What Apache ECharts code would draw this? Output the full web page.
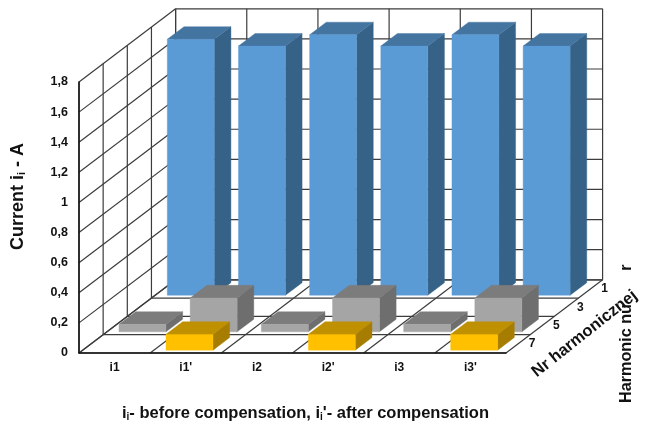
<!DOCTYPE html>
<html>
<head>
<meta charset="utf-8">
<style>html,body{margin:0;padding:0;background:#fff}#chart{width:648px;height:422px}</style>
<script src="https://cdn.jsdelivr.net/npm/echarts@6/dist/echarts.min.js"></script>
</head>
<body>
<div id="chart"></div>
<script>
// Harmonic currents before and after compensation, drawn as an oblique 3D column chart.
const categories = ["i1", "i1'", "i2", "i2'", "i3", "i3'"];
const harmonicOrders = ["7", "5", "3", "1"]; // front row to back row
const harmonic1 = [1.70, 1.655, 1.73, 1.655, 1.73, 1.655];
const harmonic3 = [0, 0, 0, 0, 0, 0];
const harmonic5 = [0.05, 0.225, 0.05, 0.225, 0.05, 0.225];
const harmonic7 = [0, 0.105, 0, 0.105, 0, 0.105];

// Oblique projection: screen offset of one harmonic row into the chart.
const ROW_DX = 24.15, ROW_DY = -18.3;
const BAR_WIDTH = 0.66, BAR_DEPTH = 0.69;
const GRID_COLOR = '#3c3c3c';
const TEXT_COLOR = '#111';
const FONT = '"Liberation Sans", Arial, sans-serif';

const chart = echarts.init(document.getElementById('chart'), null, {renderer: 'canvas'});

function line(a, b, width, color) {
  return {type: 'line', silent: true,
    shape: {x1: a[0], y1: a[1], x2: b[0], y2: b[1]},
    style: {stroke: color || GRID_COLOR, lineWidth: width || 1.2}};
}
function shift(p, rows) { return [p[0] + rows * ROW_DX, p[1] + rows * ROW_DY]; }

// Walls, floor and depth scale of the 3D box.
function renderBox(params, api) {
  const halfBand = api.size([1, 0])[0] / 2;
  const rows = harmonicOrders.length;
  const left = i => api.coord([i, 0])[0] - halfBand;
  const yAt = v => api.coord([0, v])[1];
  const kids = [];
  const n = categories.length;
  for (let k = 0; k <= 9; k++) {
    const v = k * 0.2;
    const a = [left(0), yAt(v)];
    const b = shift(a, rows);
    kids.push(line(a, b));
    kids.push(line(b, [left(n) + rows * ROW_DX, b[1]]));
  }
  for (let i = 0; i <= n; i++) {
    const base = shift([left(i), yAt(0)], rows);
    kids.push(line(base, [base[0], yAt(1.8) + rows * ROW_DY]));
    kids.push(line([left(i), yAt(0)], base));
  }
  for (let r = 0; r <= rows; r++) {
    const a = shift([left(0), yAt(0)], r);
    kids.push(line(a, [left(n) + r * ROW_DX, a[1]]));
    const top = shift([left(0), yAt(1.8)], r);
    kids.push(line(a, top));
  }
  harmonicOrders.forEach((order, r) => {
    const p = shift([left(n), yAt(0)], r + 0.5);
    kids.push({type: 'text', silent: true, style: {
      text: order, x: p[0] + 14, y: p[1], align: 'center', verticalAlign: 'middle',
      font: 'bold 12px ' + FONT, fill: TEXT_COLOR}});
  });
  return {type: 'group', children: kids};
}

function face(points, color) {
  return {type: 'polygon', silent: true, shape: {points},
    style: {fill: color, stroke: color, lineWidth: 0.4}};
}

// One row of prisms; rowIndex 0 is the front row.
function columnRenderer(rowIndex, colors) {
  return function (params, api) {
    const value = api.value(1);
    if (!(value > 0)) return null;
    const band = api.size([1, 0])[0];
    const base = api.coord([api.value(0), 0]);
    const top = api.coord([api.value(0), value]);
    const start = rowIndex + (1 - BAR_DEPTH) / 2;
    const x0 = base[0] - band * BAR_WIDTH / 2;
    const x1 = base[0] + band * BAR_WIDTH / 2;
    const fbl = shift([x0, base[1]], start), fbr = shift([x1, base[1]], start);
    const ftl = shift([x0, top[1]], start), ftr = shift([x1, top[1]], start);
    const bbr = shift(fbr, BAR_DEPTH), btr = shift(ftr, BAR_DEPTH), btl = shift(ftl, BAR_DEPTH);
    return {type: 'group', children: [
      face([fbr, bbr, btr, ftr], colors[2]),
      face([ftl, ftr, btr, btl], colors[1]),
      face([fbl, fbr, ftr, ftl], colors[0])
    ]};
  };
}

function columnSeries(name, values, rowIndex, colors, z) {
  return {
    type: 'custom', name, coordinateSystem: 'cartesian2d', z,
    clip: false, silent: true,
    encode: {x: 0, y: 1},
    data: values.map((v, i) => [i, v]),
    renderItem: columnRenderer(rowIndex, colors)
  };
}

const subRich = {
  t: {fontFamily: FONT, fontWeight: 'bold', fontSize: 16.5, color: TEXT_COLOR},
  s: {fontFamily: FONT, fontWeight: 'bold', fontSize: 10, color: TEXT_COLOR, verticalAlign: 'bottom', padding: [6, 0, 0, 0]}
};
const subRichLarge = {
  t: {fontFamily: FONT, fontWeight: 'bold', fontSize: 18, color: TEXT_COLOR},
  s: {fontFamily: FONT, fontWeight: 'bold', fontSize: 11, color: TEXT_COLOR, verticalAlign: 'bottom', padding: [6, 0, 0, 0]}
};

chart.setOption({
  animation: false,
  backgroundColor: '#fff',
  grid: {left: 79, top: 82, width: 427, height: 271, containLabel: false, outerBoundsMode: 'none'},
  xAxis: {
    type: 'category', data: categories, z: 20,
    axisLine: {show: true, lineStyle: {color: '#111', width: 1.5}},
    axisTick: {show: false},
    axisLabel: {margin: 9, fontFamily: FONT, fontWeight: 'bold', fontSize: 12, color: TEXT_COLOR},
    name: "{t|i}{s|i}{t|- before compensation, i}{s|i}{t|'- after compensation}",
    nameLocation: 'middle', nameGap: 52,
    nameTextStyle: {rich: subRich, padding: [0, 0, 0, 26]}
  },
  yAxis: {
    type: 'value', min: 0, max: 1.8, interval: 0.2, z: 20,
    axisLine: {show: true, lineStyle: {color: '#111', width: 1.5}},
    axisTick: {show: false},
    splitLine: {show: false},
    axisLabel: {
      margin: 11, fontFamily: FONT, fontWeight: 'bold', fontSize: 12.5, color: TEXT_COLOR,
      formatter: v => String(Math.round(v * 10) / 10).replace('.', ',')
    },
    name: '{t|Current i}{s|i}{t| - A}',
    nameLocation: 'middle', nameRotate: 90, nameGap: 52,
    nameTextStyle: {rich: subRichLarge, padding: [0, 0, 0, 42]}
  },
  graphic: [
    {type: 'text', silent: true, z: 29, x: 627, y: 403, rotation: Math.PI / 2,
      style: {text: 'Harmonic number', font: 'bold 16.2px ' + FONT, fill: TEXT_COLOR, align: 'left', verticalAlign: 'middle'}},
    // White label box of the Polish axis title sits over part of the English one.
    {type: 'rect', silent: true, z: 30, shape: {x: 617, y: 270, width: 22, height: 33},
      style: {fill: '#fff'}},
    {type: 'text', silent: true, z: 31, x: 534, y: 374, rotation: 38.5 * Math.PI / 180,
      style: {text: 'Nr harmonicznej', font: 'bold 16.5px ' + FONT, fill: TEXT_COLOR, align: 'left', verticalAlign: 'middle'}}
  ],
  series: [
    {type: 'custom', name: 'box', coordinateSystem: 'cartesian2d', z: 1, clip: false, silent: true,
      encode: {x: 0, y: 1}, data: [[0, 0]], renderItem: renderBox},
    columnSeries('1', harmonic1, 3, ['#5B9BD5', '#4475A1', '#376287'], 2),
    columnSeries('3', harmonic3, 2, ['#ED7D31', '#B25E25', '#96501F'], 3),
    columnSeries('5', harmonic5, 1, ['#A5A5A5', '#7C7C7C', '#6E6E6E'], 4),
    columnSeries('7', harmonic7, 0, ['#FFC000', '#BF9000', '#A67D00'], 5)
  ]
});
</script>
</body>
</html>
